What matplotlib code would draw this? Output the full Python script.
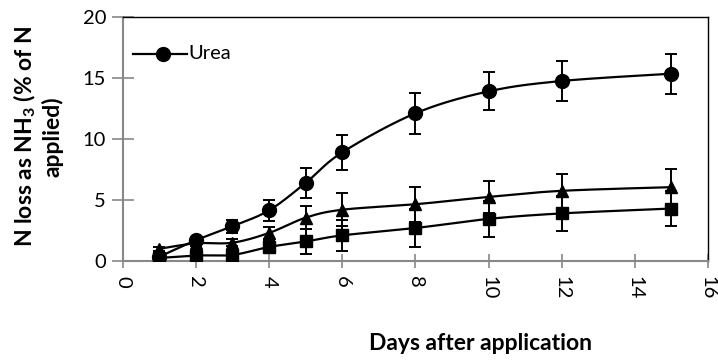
import matplotlib
matplotlib.use('Agg')
import matplotlib.pyplot as plt
import numpy as np

plt.rcParams['font.family'] = ['Lato', 'DejaVu Sans']
plt.rcParams['mathtext.fontset'] = 'custom'
plt.rcParams['mathtext.bf'] = 'Lato:bold'
plt.rcParams['mathtext.rm'] = 'Lato'

# days after application
days = [1, 2, 3, 4, 5, 6, 8, 10, 12, 15]

# urea (circles)
urea = [0.35, 1.7, 2.85, 4.15, 6.4, 8.9, 12.1, 13.9, 14.75, 15.35]
urea_err = [0.15, 0.2, 0.55, 0.85, 1.2, 1.45, 1.7, 1.55, 1.65, 1.65]

# triangle series
tri = [1.0, 1.45, 1.5, 2.3, 3.55, 4.2, 4.65, 5.25, 5.75, 6.05]
tri_err = [0.15, 0.2, 0.3, 0.5, 0.95, 1.35, 1.45, 1.3, 1.4, 1.45]

# square series
sq = [0.25, 0.45, 0.5, 1.15, 1.6, 2.1, 2.7, 3.45, 3.9, 4.3]
sq_err = [0.1, 0.15, 0.2, 0.45, 1.05, 1.25, 1.55, 1.45, 1.45, 1.45]


def smooth(x, y, n=30):
    # catmull-rom style smoothing, like excel's smoothed line
    x = np.asarray(x, float)
    y = np.asarray(y, float)
    px = np.concatenate([[x[0]], x, [x[-1]]])
    py = np.concatenate([[y[0]], y, [y[-1]]])
    xs, ys = [], []
    t = np.linspace(0, 1, n)
    for i in range(1, len(px) - 2):
        p0 = np.array([px[i], py[i]])
        p3 = np.array([px[i + 1], py[i + 1]])
        p1 = p0 + (np.array([px[i + 1], py[i + 1]]) - np.array([px[i - 1], py[i - 1]])) / 6.0
        p2 = p3 - (np.array([px[i + 2], py[i + 2]]) - np.array([px[i], py[i]])) / 6.0
        b = ((1 - t) ** 3)[:, None] * p0 + (3 * (1 - t) ** 2 * t)[:, None] * p1 \
            + (3 * (1 - t) * t ** 2)[:, None] * p2 + (t ** 3)[:, None] * p3
        xs.extend(b[:, 0])
        ys.extend(b[:, 1])
    return xs, ys


fig = plt.figure(figsize=(7.18, 3.6), dpi=100)
ax = fig.add_axes([0.171, 0.275, 0.815, 0.678])

series = [(sq, sq_err, 's', 8.5), (tri, tri_err, '^', 9), (urea, urea_err, 'o', 10)]
for vals, err, mk, ms in series:
    sx, sy = smooth(days, vals)
    ax.plot(sx, sy, color='black', lw=1.6, zorder=2)
    ax.errorbar(days, vals, yerr=err, fmt=mk, color='black', ms=ms,
                ecolor='black', elinewidth=1.4, capsize=4, capthick=1.4, zorder=3)

# legend shows only urea
ax.plot([0.27, 1.75], [17.0, 17.0], color='black', lw=1.6)
ax.plot([1.09], [17.0], 'o', color='black', ms=10)
ax.text(1.78, 17.0, 'Urea', va='center', ha='left', fontsize=14.5)

ax.set_xlim(0, 16)
ax.set_ylim(0, 20)
ax.set_xticks(range(0, 17, 2))
ax.set_yticks(range(0, 21, 5))
ax.tick_params(axis='x', direction='inout', length=10, width=1.2, color='#888888',
               labelsize=14.5, rotation=270, pad=6)
ax.tick_params(axis='y', direction='inout', length=16, width=1.2, color='#888888',
               labelsize=14.5, pad=4)
for s in ['left', 'bottom']:
    ax.spines[s].set_color('#888888')
    ax.spines[s].set_linewidth(1.5)
for s in ['top', 'right']:
    ax.spines[s].set_color('black')
    ax.spines[s].set_linewidth(1.0)

fig.text(0.052, 0.62, 'N loss as NH$_\\mathbf{3}$ (% of N\napplied)', rotation=90,
         ha='center', va='center', fontsize=16.5, fontweight='bold', linespacing=1.15)
fig.text(0.669, 0.047, 'Days after application', ha='center', va='center',
         fontsize=16.5, fontweight='bold')

fig.savefig('out.png', dpi=100)
